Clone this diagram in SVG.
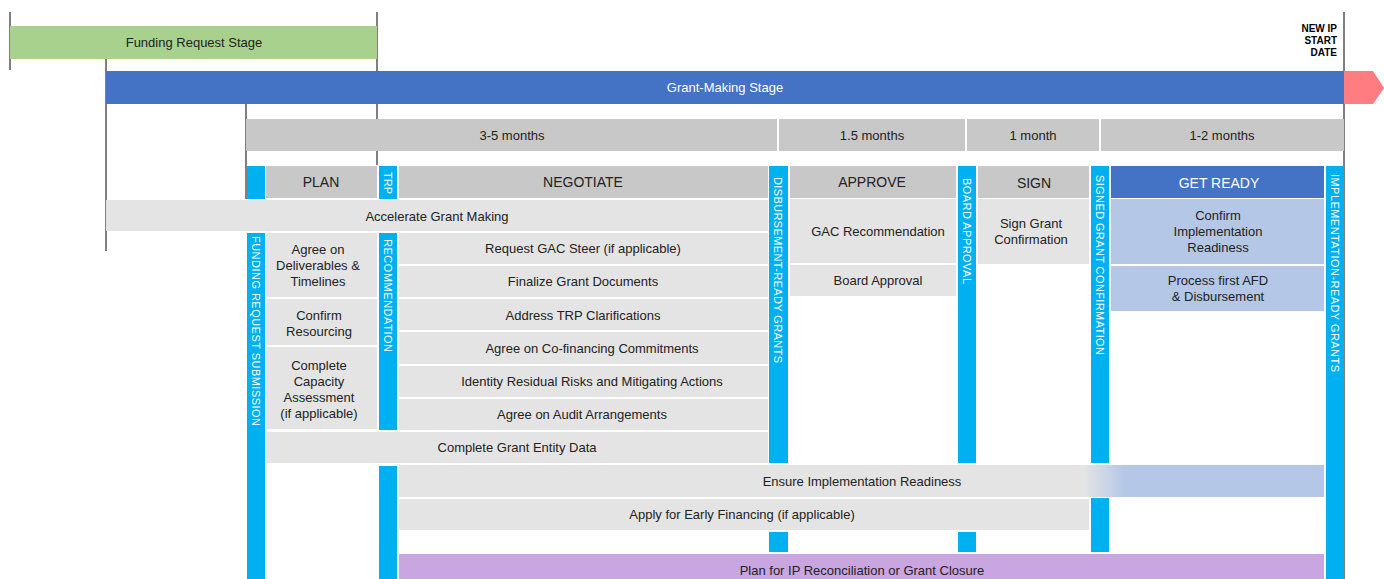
<svg xmlns="http://www.w3.org/2000/svg" width="1384" height="579" viewBox="0 0 1384 579">
<defs>
<linearGradient id="ensureGrad" x1="399" y1="0" x2="1324" y2="0" gradientUnits="userSpaceOnUse">
<stop offset="0" stop-color="#E4E4E4"/>
<stop offset="0.74" stop-color="#E4E4E4"/>
<stop offset="0.785" stop-color="#B4C7E7"/>
<stop offset="1" stop-color="#B4C7E7"/>
</linearGradient>
<style>
text{font-family:"Liberation Sans",Arial,sans-serif;fill:#222;}
.t{font-size:13px;text-anchor:middle;}
.h{font-size:14px;text-anchor:middle;}
.v{font-size:11px;fill:#fff;}
.hd{fill:#C8C8C8;}
.row{fill:#E4E4E4;}
.lb{fill:#B4C7E7;}
.cy{fill:#00B0F0;}
.ln{stroke:#555;stroke-width:1.5;fill:none;}
</style>
</defs>
<rect width="1384" height="579" fill="#fff"/>

<g id="connectors">
<line class="ln" x1="10" y1="12" x2="10" y2="70"/>
<line class="ln" x1="377" y1="12" x2="377" y2="165"/>
<line class="ln" x1="106" y1="59" x2="106" y2="251"/>
<line class="ln" x1="246" y1="104" x2="246" y2="199"/>
<line class="ln" x1="1344" y1="12" x2="1344" y2="579"/>
</g>

<g id="funding-stage">
<rect x="10" y="26" width="367" height="33" fill="#A9D18E"/>
<text class="t" x="194" y="47">Funding Request Stage</text>
</g>

<g id="grant-making-stage">
<rect x="106" y="71" width="1238" height="33" fill="#4472C4"/>
<text class="t" x="725" y="92" style="fill:#fff">Grant-Making Stage</text>
</g>

<g id="start-arrow">
<polygon points="1344,71 1373,71 1384,88 1373,104 1344,104" fill="#FF7C80"/>
</g>

<g id="new-ip-start-date">
<text x="1337" y="32" style="font-size:10px;font-weight:bold;text-anchor:end;fill:#000">NEW IP</text>
<text x="1337" y="44" style="font-size:10px;font-weight:bold;text-anchor:end;fill:#000">START</text>
<text x="1337" y="56" style="font-size:10px;font-weight:bold;text-anchor:end;fill:#000">DATE</text>
</g>

<g id="durations">
<rect class="hd" x="246" y="119" width="531" height="32"/>
<text class="t" x="512" y="140">3-5 months</text>
<rect class="hd" x="779" y="119" width="186" height="32"/>
<text class="t" x="872" y="140">1.5 months</text>
<rect class="hd" x="967" y="119" width="132" height="32"/>
<text class="t" x="1033" y="140">1 month</text>
<rect class="hd" x="1101" y="119" width="243" height="32"/>
<text class="t" x="1222" y="140">1-2 months</text>
</g>

<g id="milestone-bars">
<rect class="cy" x="247" y="166" width="18" height="33"/>
<rect class="cy" x="247" y="233" width="18" height="346"/>
<rect class="cy" x="379" y="166" width="18" height="33"/>
<rect class="cy" x="379" y="233" width="18" height="197"/>
<rect class="cy" x="379" y="466" width="18" height="113"/>
<rect class="cy" x="769" y="166" width="19" height="297"/>
<rect class="cy" x="769" y="532" width="19" height="20"/>
<rect class="cy" x="958" y="166" width="18" height="297"/>
<rect class="cy" x="958" y="532" width="18" height="20"/>
<rect class="cy" x="1091" y="166" width="18" height="297"/>
<rect class="cy" x="1091" y="498" width="18" height="54"/>
<rect class="cy" x="1326" y="166" width="18" height="413"/>
</g>

<g id="milestone-labels">
<text class="v" transform="translate(252,236) rotate(90)" textLength="190" lengthAdjust="spacing">FUNDING REQUEST  SUBMISSION</text>
<text class="v" transform="translate(384,172) rotate(90)">TRP</text>
<text class="v" transform="translate(384,239) rotate(90)" textLength="113" lengthAdjust="spacing">RECOMMENDATION</text>
<text class="v" transform="translate(774,177) rotate(90)" textLength="186" lengthAdjust="spacing">DISBURSEMENT-READY  GRANTS</text>
<text class="v" transform="translate(963,178) rotate(90)" textLength="106" lengthAdjust="spacing">BOARD  APPROVAL</text>
<text class="v" transform="translate(1096,175) rotate(90)" textLength="180" lengthAdjust="spacing">SIGNED  GRANT  CONFIRMATION</text>
<text class="v" transform="translate(1331,174) rotate(90)" textLength="198" lengthAdjust="spacing">IMPLEMENTATION-READY  GRANTS</text>
</g>

<g id="phase-plan">
<rect class="hd" x="266" y="166" width="111" height="32"/>
<text class="h" x="321" y="187">PLAN</text>
</g>
<g id="phase-negotiate">
<rect class="hd" x="399" y="166" width="369" height="32"/>
<text class="h" x="583" y="187">NEGOTIATE</text>
</g>
<g id="phase-approve">
<rect class="hd" x="790" y="166" width="166" height="32"/>
<text class="h" x="872" y="187">APPROVE</text>
</g>
<g id="phase-sign">
<rect class="hd" x="978" y="166" width="111" height="32"/>
<text class="h" x="1034" y="188">SIGN</text>
</g>
<g id="phase-get-ready">
<rect x="1111" y="166" width="213" height="32" fill="#4472C4"/>
<text class="h" x="1219" y="188" style="fill:#fff">GET READY</text>
</g>

<g id="accelerate">
<rect class="row" x="106" y="200" width="662" height="31"/>
<text class="t" x="437" y="221">Accelerate Grant Making</text>
</g>

<g id="plan-deliverables">
<rect class="row" x="266" y="233" width="111" height="64"/>
<text class="t" x="318" y="254">Agree on</text>
<text class="t" x="318" y="270">Deliverables &amp;</text>
<text class="t" x="318" y="286">Timelines</text>
</g>
<g id="plan-resourcing">
<rect class="row" x="266" y="299" width="111" height="46"/>
<text class="t" x="319" y="320">Confirm</text>
<text class="t" x="319" y="336">Resourcing</text>
</g>
<g id="plan-capacity">
<rect class="row" x="266" y="347" width="111" height="82"/>
<text class="t" x="319" y="370">Complete</text>
<text class="t" x="319" y="386">Capacity</text>
<text class="t" x="319" y="402">Assessment</text>
<text class="t" x="319" y="418">(if applicable)</text>
</g>

<g id="neg-gac-steer">
<rect class="row" x="399" y="233" width="369" height="31"/>
<text class="t" x="583" y="253">Request GAC Steer (if applicable)</text>
</g>
<g id="neg-finalize">
<rect class="row" x="399" y="266" width="369" height="31"/>
<text class="t" x="583" y="286">Finalize Grant Documents</text>
</g>
<g id="neg-trp">
<rect class="row" x="399" y="299" width="369" height="31"/>
<text class="t" x="583" y="320">Address TRP Clarifications</text>
</g>
<g id="neg-cofinancing">
<rect class="row" x="399" y="332" width="369" height="32"/>
<text class="t" x="592" y="353">Agree on Co-financing Commitments</text>
</g>
<g id="neg-risks">
<rect class="row" x="399" y="366" width="369" height="31"/>
<text class="t" x="592" y="386">Identity Residual Risks and Mitigating Actions</text>
</g>
<g id="neg-audit">
<rect class="row" x="399" y="399" width="369" height="31"/>
<text class="t" x="582" y="419">Agree on Audit Arrangements</text>
</g>
<g id="entity-data">
<rect class="row" x="266" y="432" width="502" height="31"/>
<text class="t" x="517" y="452">Complete Grant Entity Data</text>
</g>

<g id="gac-recommendation">
<rect class="row" x="790" y="199" width="166" height="64"/>
<text class="t" x="878" y="236">GAC Recommendation</text>
</g>
<g id="board-approval">
<rect class="row" x="790" y="265" width="166" height="31"/>
<text class="t" x="878" y="285">Board Approval</text>
</g>
<g id="sign-confirmation">
<rect class="row" x="978" y="199" width="111" height="65"/>
<text class="t" x="1031" y="228">Sign Grant</text>
<text class="t" x="1031" y="244">Confirmation</text>
</g>
<g id="confirm-readiness">
<rect class="lb" x="1111" y="199" width="213" height="65"/>
<text class="t" x="1218" y="220">Confirm</text>
<text class="t" x="1218" y="236">Implementation</text>
<text class="t" x="1218" y="252">Readiness</text>
</g>
<g id="process-afd">
<rect class="lb" x="1111" y="266" width="213" height="45"/>
<text class="t" x="1218" y="285">Process first AFD</text>
<text class="t" x="1218" y="301">&amp; Disbursement</text>
</g>

<g id="ensure-readiness">
<rect x="399" y="465" width="925" height="32" fill="url(#ensureGrad)"/>
<text class="t" x="862" y="486">Ensure Implementation Readiness</text>
</g>
<g id="early-financing">
<rect class="row" x="399" y="499" width="690" height="31"/>
<text class="t" x="742" y="519">Apply for Early Financing (if applicable)</text>
</g>
<g id="reconciliation">
<rect x="399" y="554" width="925" height="25" fill="#C9A5E1"/>
<text class="t" x="862" y="575">Plan for IP Reconciliation or Grant Closure</text>
</g>
</svg>
